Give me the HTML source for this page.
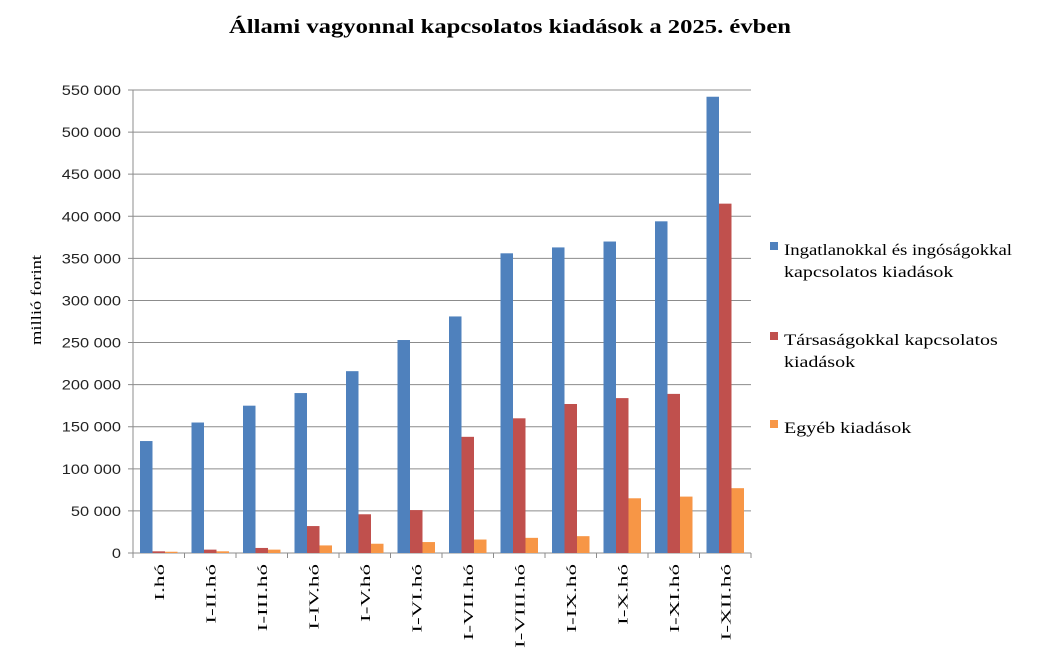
<!DOCTYPE html>
<html><head><meta charset="utf-8"><style>
body{margin:0;background:#fff;}
svg{display:block;}
</style></head><body>
<svg id="c" width="1054" height="648" xmlns="http://www.w3.org/2000/svg">
<text class="st" data-w="562" x="510" y="33" text-anchor="middle" font-family="Liberation Serif, serif" font-weight="bold" font-size="20">Állami vagyonnal kapcsolatos kiadások a 2025. évben</text>
<text class="st" data-w="90" transform="translate(41,300) rotate(-90)" text-anchor="middle" font-family="Liberation Serif, serif" font-size="15">millió forint</text>
<g id="grid"></g>
<g id="bars"></g>
<g font-family="Liberation Serif, serif" font-size="16" fill="#000">
<rect x="770" y="242" width="8" height="8" fill="#4f81bd"/>
<text class="st" data-w="228" x="784" y="255">Ingatlanokkal és ingóságokkal</text>
<text class="st" data-r="1.25" x="784" y="277">kapcsolatos kiadások</text>
<rect x="770" y="332" width="8" height="8" fill="#c0504d"/>
<text class="st" data-r="1.25" x="784" y="345">Társaságokkal kapcsolatos</text>
<text class="st" data-r="1.25" x="784" y="367">kiadások</text>
<rect x="770" y="420" width="8" height="8" fill="#f79646"/>
<text class="st" data-r="1.25" x="784" y="433">Egyéb kiadások</text>
</g>
</svg>
<script>
var ns="http://www.w3.org/2000/svg",g=document.getElementById('grid'),b=document.getElementById('bars');
function el(p,t,a,txt){var e=document.createElementNS(ns,t);for(var k in a)e.setAttribute(k,a[k]);if(txt)e.textContent=txt;p.appendChild(e);return e;}
var y0=553,k=(553-90)/550,L=133,W=51.5,R=L+12*W;
for(var i=0;i<=11;i++){var y=y0-i*50*k;
 el(g,'line',{x1:L-5,x2:R,y1:y,y2:y,stroke:'#8c8c8c','stroke-width':1});
 var s=i==0?'0':(i*50)+' 000';
 el(g,'text',{'class':'st','data-r':'1.17',x:121,y:y+5,'text-anchor':'end','font-family':'Liberation Sans, sans-serif','font-size':14,fill:'#222'},s);}
el(g,'line',{x1:L,x2:L,y1:90,y2:y0,stroke:'#8c8c8c'});
var blue=[133,155,175,190,216,253,281,356,363,370,394,542],
red=[2,4,6,32,46,51,138,160,177,184,189,415],
org=[1.5,2,4,9,11,13,16,18,20,65,67,77],
lab=['I.hó','I-II.hó','I-III.hó','I-IV.hó','I-V.hó','I-VI.hó','I-VII.hó','I-VIII.hó','I-IX.hó','I-X.hó','I-XI.hó','I-XII.hó'];
for(var i=0;i<12;i++){var x=L+i*W;
 [[blue,'#4f81bd',7],[red,'#c0504d',19.5],[org,'#f79646',32]].forEach(function(s){var h=s[0][i]*k;el(b,'rect',{x:x+s[2],y:y0-h,width:12.5,height:h,fill:s[1]});});
 el(g,'line',{x1:x+W,x2:x+W,y1:y0,y2:y0+5,stroke:'#8c8c8c'});
 el(b,'text',{'class':'st','data-r':'1.65',transform:'translate('+(x+W/2+5)+',564) rotate(-90)','text-anchor':'end','font-family':'Liberation Serif, serif','font-size':14},lab[i]);}
el(g,'line',{x1:L,x2:L,y1:y0,y2:y0+5,stroke:'#8c8c8c'});
document.querySelectorAll('.st').forEach(function(t){
 var len=t.getComputedTextLength(),w=t.getAttribute('data-w'),r=t.getAttribute('data-r');
 var target=w?parseFloat(w):len*parseFloat(r);
 t.setAttribute('textLength',target);t.setAttribute('lengthAdjust','spacingAndGlyphs');
});
</script>
</body></html>
